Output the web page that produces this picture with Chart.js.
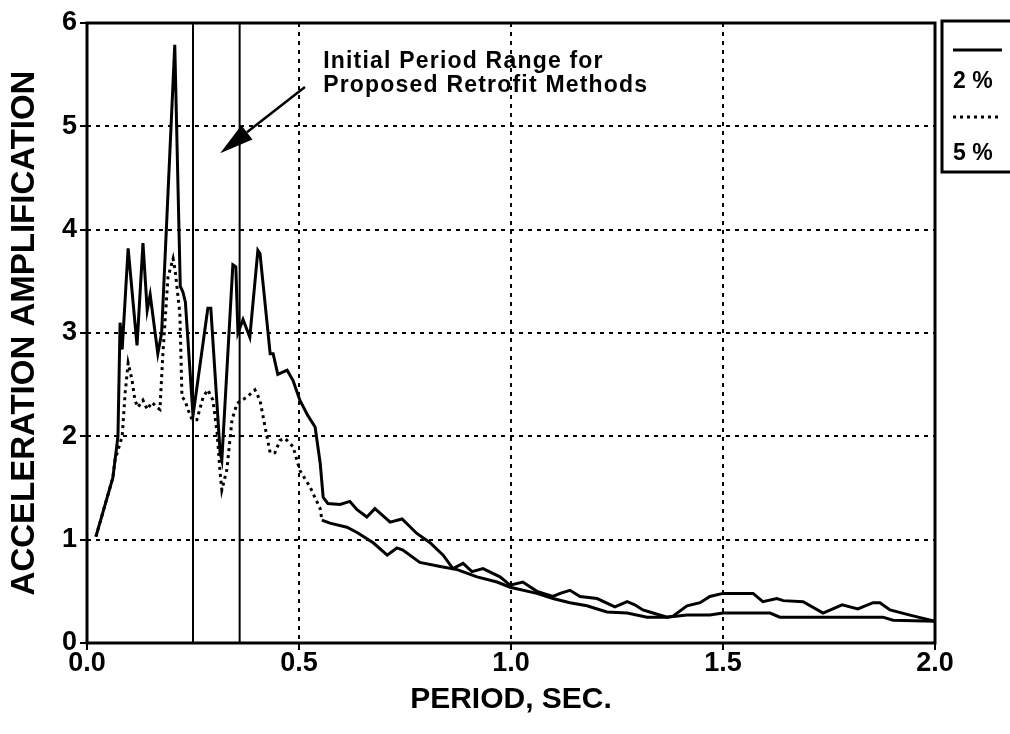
<!DOCTYPE html>
<html>
<head>
<meta charset="utf-8">
<script src="https://cdn.jsdelivr.net/npm/chart.js@4.4.1/dist/chart.umd.min.js"></script>
<style>
  html, body { margin: 0; padding: 0; background: #fff; }
  #wrap { width: 1010px; height: 734px; }
</style>
</head>
<body>
<div id="wrap"><canvas id="chart" width="1010" height="734"></canvas></div>
<script>
// 周期 T [s]（2% 減衰）
const period2 = [
  0.021, 0.061, 0.073, 0.078, 0.083, 0.097, 0.118, 0.132, 0.142, 0.149,
  0.167, 0.176, 0.207, 0.220, 0.226, 0.232, 0.250, 0.285, 0.292, 0.314,
  0.318, 0.344, 0.351, 0.356, 0.368, 0.384, 0.403, 0.408, 0.432, 0.439,
  0.450, 0.472, 0.486, 0.502, 0.521, 0.538, 0.550, 0.557, 0.568, 0.597,
  0.620, 0.637, 0.660, 0.679, 0.715, 0.743, 0.778, 0.809, 0.840, 0.863,
  0.887, 0.908, 0.934, 0.974, 0.998, 1.028, 1.061, 1.099, 1.116, 1.139,
  1.163, 1.203, 1.245, 1.274, 1.292, 1.311, 1.335, 1.368, 1.382, 1.415,
  1.446, 1.469, 1.500, 1.571, 1.594, 1.627, 1.642, 1.689, 1.736, 1.781,
  1.818, 1.854, 1.870, 1.894, 1.941, 2.000,
];
// 加速度増幅率（2%）
const amp2 = [
  1.03, 1.60, 2.00, 3.10, 2.84, 3.82, 2.88, 3.87, 3.22, 3.37,
  2.80, 3.00, 5.79, 3.45, 3.40, 3.30, 2.20, 3.24, 3.24, 1.84,
  1.77, 3.66, 3.64, 3.00, 3.13, 2.96, 3.80, 3.77, 2.80, 2.80,
  2.60, 2.64, 2.54, 2.35, 2.20, 2.09, 1.74, 1.41, 1.35, 1.34,
  1.37, 1.29, 1.22, 1.30, 1.17, 1.20, 1.06, 0.97, 0.85, 0.72,
  0.77, 0.69, 0.72, 0.64, 0.56, 0.59, 0.50, 0.45, 0.48, 0.51,
  0.45, 0.43, 0.35, 0.40, 0.37, 0.32, 0.29, 0.25, 0.26, 0.36,
  0.39, 0.45, 0.48, 0.48, 0.40, 0.43, 0.41, 0.40, 0.29, 0.37,
  0.33, 0.39, 0.39, 0.32, 0.27, 0.21,
];
// 周期 T [s]（5% 減衰）
const period5 = [
  0.021, 0.061, 0.066, 0.083, 0.090, 0.097, 0.106, 0.113, 0.120, 0.132,
  0.142, 0.153, 0.165, 0.172, 0.179, 0.191, 0.203, 0.208, 0.219, 0.224,
  0.231, 0.238, 0.248, 0.259, 0.274, 0.285, 0.297, 0.307, 0.314, 0.318,
  0.330, 0.342, 0.354, 0.377, 0.396, 0.408, 0.420, 0.432, 0.443, 0.455,
  0.467, 0.486, 0.502, 0.526, 0.550, 0.554, 0.573, 0.613, 0.637, 0.675,
  0.708, 0.731, 0.745, 0.785, 0.833, 0.873, 0.920, 0.967, 0.998, 1.061,
  1.099, 1.139, 1.179, 1.226, 1.274, 1.321, 1.368, 1.415, 1.469, 1.500,
  1.611, 1.634, 1.877, 1.901, 2.000,
];
// 加速度増幅率（5%）
const amp5 = [
  1.03, 1.60, 1.77, 2.00, 2.42, 2.71, 2.55, 2.35, 2.28, 2.35,
  2.26, 2.33, 2.28, 2.26, 2.80, 3.54, 3.72, 3.60, 3.19, 2.38,
  2.35, 2.26, 2.16, 2.16, 2.38, 2.45, 2.35, 2.03, 1.65, 1.48,
  1.68, 2.16, 2.32, 2.38, 2.45, 2.35, 2.09, 1.84, 1.84, 1.96,
  1.98, 1.90, 1.67, 1.51, 1.30, 1.19, 1.16, 1.12, 1.07, 0.97,
  0.85, 0.92, 0.90, 0.78, 0.74, 0.71, 0.64, 0.59, 0.54, 0.48,
  0.43, 0.39, 0.36, 0.30, 0.29, 0.25, 0.25, 0.27, 0.27, 0.29,
  0.29, 0.25, 0.25, 0.22, 0.21,
];
// 補強工法の初期周期範囲
const retrofitRange = [0.25, 0.36];
const seriesLabels = ["2 %", "5 %"];
const noteLines = ["Initial Period Range for", "Proposed Retrofit Methods"];
const xTitle = "PERIOD, SEC.";
const yTitle = "ACCELERATION AMPLIFICATION";

const FONT = "'Liberation Sans', Arial, Helvetica, sans-serif";
const toPoints = (xs, ys) => xs.map((v, i) => ({ x: v, y: ys[i] }));
const isEdge = (v, lo, hi) => Math.abs(v - lo) < 1e-9 || Math.abs(v - hi) < 1e-9;

/**
 * 外枠・注記矢印・凡例をまとめて描く
 */
const decorPlugin = {
  id: "decor",
  afterDatasetsDraw(chart) {
    const { ctx, chartArea: a, scales } = chart;
    const px = (v) => scales.x.getPixelForValue(v);
    const py = (v) => scales.y.getPixelForValue(v);
    ctx.save();
    ctx.strokeStyle = "#000";
    ctx.fillStyle = "#000";
    ctx.setLineDash([]);

    // 外枠
    ctx.lineWidth = 3;
    ctx.strokeRect(a.left, a.top, a.right - a.left, a.bottom - a.top);

    // 注記テキスト
    ctx.font = "bold 23px " + FONT;
    ctx.letterSpacing = "1.2px";
    ctx.textAlign = "left";
    ctx.textBaseline = "alphabetic";
    ctx.fillText(noteLines[0], px(0.557), py(5.56));
    ctx.fillText(noteLines[1], px(0.557), py(5.335));

    // 矢印
    const x1 = px(0.514), y1 = py(5.38);
    const x2 = px(0.314), y2 = py(4.74);
    const ang = Math.atan2(y2 - y1, x2 - x1);
    const len = 34, half = 9;
    const bx = x2 - len * Math.cos(ang), by = y2 - len * Math.sin(ang);
    ctx.lineWidth = 2.5;
    ctx.beginPath();
    ctx.moveTo(x1, y1);
    ctx.lineTo(bx, by);
    ctx.stroke();
    ctx.beginPath();
    ctx.moveTo(x2, y2);
    ctx.lineTo(bx + half * Math.sin(ang), by - half * Math.cos(ang));
    ctx.lineTo(bx - half * Math.sin(ang), by + half * Math.cos(ang));
    ctx.closePath();
    ctx.fill();

    // 凡例
    const lx = a.right + 7, ly = a.top - 2;
    ctx.lineWidth = 3;
    ctx.strokeRect(lx, ly, 80, 151);
    ctx.beginPath();
    ctx.moveTo(lx + 11, ly + 29);
    ctx.lineTo(lx + 60, ly + 29);
    ctx.stroke();
    ctx.setLineDash([3, 4]);
    ctx.beginPath();
    ctx.moveTo(lx + 11, ly + 96);
    ctx.lineTo(lx + 58, ly + 96);
    ctx.stroke();
    ctx.setLineDash([]);
    ctx.font = "bold 23px " + FONT;
    ctx.letterSpacing = "0px";
    ctx.fillText(seriesLabels[0], lx + 11, ly + 67);
    ctx.fillText(seriesLabels[1], lx + 11, ly + 139);
    ctx.restore();
  },
};

const rangeSets = retrofitRange.map((t) => ({
  data: [{ x: t, y: 0 }, { x: t, y: 6 }],
  showLine: true,
  borderColor: "#000",
  borderWidth: 2,
  pointRadius: 0,
}));

new Chart(document.getElementById("chart"), {
  type: "scatter",
  data: {
    datasets: [
      {
        label: seriesLabels[0],
        data: toPoints(period2, amp2),
        showLine: true,
        borderColor: "#000",
        borderWidth: 3,
        pointRadius: 0,
        tension: 0,
      },
      {
        label: seriesLabels[1],
        data: toPoints(period5, amp5),
        showLine: true,
        borderColor: "#000",
        borderWidth: 3,
        borderDash: [],
        pointRadius: 0,
        tension: 0,
        segment: {
          borderDash: (c) => (c.p0.parsed.x < 0.553 ? [3, 4] : undefined),
        },
      },
      ...rangeSets,
    ],
  },
  options: {
    responsive: false,
    animation: false,
    layout: { padding: { left: 0, right: 75, top: 23, bottom: 0 } },
    plugins: {
      legend: { display: false },
      tooltip: { enabled: false },
    },
    scales: {
      x: {
        type: "linear",
        min: 0,
        max: 2,
        afterFit: (s) => { s.height = 91; },
        ticks: {
          stepSize: 0.5,
          maxRotation: 0,
          padding: 0,
          color: "#000",
          font: { family: FONT, size: 27, weight: "bold", lineHeight: 1 },
          callback: (v) => Number(v).toFixed(1),
        },
        grid: {
          color: (c) => (isEdge(c.tick.value, 0, 2) ? "transparent" : "#000"),
          lineWidth: 2,
          tickColor: "#000",
          tickLength: 7,
          tickWidth: 2,
        },
        border: { display: false, dash: [4, 5] },
        title: {
          display: true,
          text: xTitle,
          color: "#000",
          font: { family: FONT, size: 30, weight: "bold" },
          padding: { top: 0, bottom: 16 },
        },
      },
      y: {
        type: "linear",
        min: 0,
        max: 6,
        afterFit: (s) => { s.width = 87; },
        ticks: {
          stepSize: 1,
          padding: 3,
          color: "#000",
          font: { family: FONT, size: 27, weight: "bold" },
        },
        grid: {
          color: (c) => (isEdge(c.tick.value, 0, 6) ? "transparent" : "#000"),
          lineWidth: 2,
          tickColor: "#000",
          tickLength: 7,
          tickWidth: 2,
        },
        border: { display: false, dash: [4, 5] },
        title: {
          display: true,
          text: yTitle,
          color: "#000",
          font: { family: FONT, size: 33, weight: "bold" },
          padding: { top: 5, bottom: 0 },
        },
      },
    },
  },
  plugins: [decorPlugin],
});
</script>
</body>
</html>
